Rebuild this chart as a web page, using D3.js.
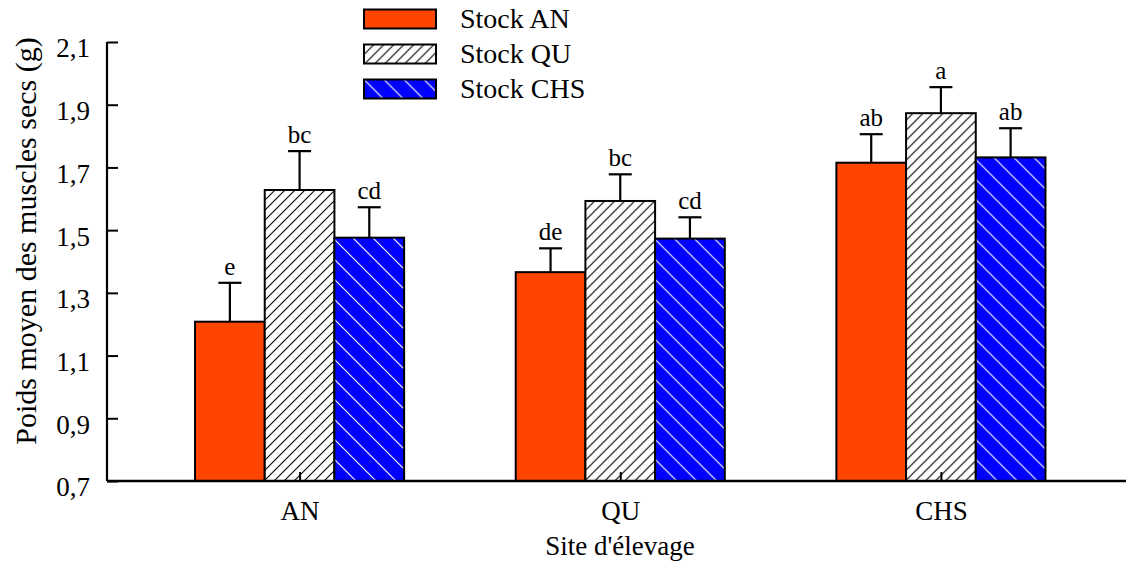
<!DOCTYPE html>
<html>
<head>
<meta charset="utf-8">
<script src="https://cdn.jsdelivr.net/npm/d3@7"></script>
<style>
  html, body { margin: 0; padding: 0; background: #fff; }
  svg text { font-family: "Liberation Serif", "Times New Roman", Times, serif; fill: #000; }
</style>
</head>
<body>
<svg id="chart" width="1126" height="564"></svg>
<script>
// Rearing sites (x categories) and stocks (series)
const sites = ["AN", "QU", "CHS"];
const stocks = ["Stock AN", "Stock QU", "Stock CHS"];

// Mean dry muscle weight (g) per site, one array per stock
const stockAN  = [1.208, 1.366, 1.715];
const stockQU  = [1.628, 1.593, 1.873];
const stockCHS = [1.476, 1.473, 1.732];

// Standard errors
const errAN  = [0.124, 0.076, 0.091];
const errQU  = [0.124, 0.085, 0.083];
const errCHS = [0.097, 0.068, 0.093];

// Significance letters
const lettersAN  = ["e", "de", "ab"];
const lettersQU  = ["bc", "bc", "a"];
const lettersCHS = ["cd", "cd", "ab"];

const yTicks = [0.7, 0.9, 1.1, 1.3, 1.5, 1.7, 1.9, 2.1];

const svg = d3.select("#chart");

const axisLeft = 107, axisBottom = 481, axisTop = 42, axisRight = 1126;

const y = d3.scaleLinear().domain([0.7, 2.1]).range([axisBottom, axisTop]);
const x0 = d3.scaleBand().domain(sites).range([139.25, 1101.25])
  .paddingInner(0.348).paddingOuter(0.174);
const x1 = d3.scaleBand().domain(stocks).range([0, x0.bandwidth()]);

// Fill patterns
const defs = svg.append("defs");
const pQU = defs.append("pattern").attr("id", "hatchQU")
  .attr("patternUnits", "userSpaceOnUse").attr("width", 10).attr("height", 10);
pQU.append("rect").attr("width", 10).attr("height", 10).attr("fill", "#fff");
pQU.append("path").attr("d", "M-1,1 l2,-2 M0,10 l10,-10 M9,11 l2,-2")
  .attr("stroke", "#000").attr("stroke-width", 1.1);

const pCHS = defs.append("pattern").attr("id", "hatchCHS")
  .attr("patternUnits", "userSpaceOnUse").attr("width", 20).attr("height", 20);
pCHS.append("rect").attr("width", 20).attr("height", 20).attr("fill", "#0000ff");
pCHS.append("path").attr("d", "M0,0 l20,20 M-2,18 l4,4 M18,-2 l4,4")
  .attr("stroke", "#fff").attr("stroke-width", 1.1);

const fills = { "Stock AN": "#ff4500", "Stock QU": "url(#hatchQU)", "Stock CHS": "url(#hatchCHS)" };

const rows = sites.map((s, i) => ({
  site: s,
  values: [
    { stock: "Stock AN",  v: stockAN[i],  e: errAN[i],  l: lettersAN[i] },
    { stock: "Stock QU",  v: stockQU[i],  e: errQU[i],  l: lettersQU[i] },
    { stock: "Stock CHS", v: stockCHS[i], e: errCHS[i], l: lettersCHS[i] }
  ]
}));

const groups = svg.append("g").selectAll("g").data(rows).join("g")
  .attr("transform", d => `translate(${x0(d.site)},0)`);

// Error bars (drawn first so the bar outline sits over the stem base)
groups.selectAll("g.err").data(d => d.values).join("g").attr("class", "err")
  .each(function (d) {
    const g = d3.select(this);
    const cx = x1(d.stock) + x1.bandwidth() / 2;
    g.append("line").attr("x1", cx).attr("x2", cx)
      .attr("y1", y(d.v)).attr("y2", y(d.v + d.e))
      .attr("stroke", "#000").attr("stroke-width", 2.2);
    g.append("line").attr("x1", cx - 11.5).attr("x2", cx + 11.5)
      .attr("y1", y(d.v + d.e)).attr("y2", y(d.v + d.e))
      .attr("stroke", "#000").attr("stroke-width", 2.2);
    g.append("text").attr("x", cx).attr("y", y(d.v + d.e) - 8)
      .attr("text-anchor", "middle").attr("font-size", 25).text(d.l);
  });

// Bars
groups.selectAll("rect").data(d => d.values).join("rect")
  .attr("x", d => x1(d.stock))
  .attr("y", d => y(d.v))
  .attr("width", x1.bandwidth())
  .attr("height", d => y(0.7) - y(d.v))
  .attr("fill", d => fills[d.stock])
  .attr("stroke", "#000").attr("stroke-width", 2);

// Y axis
const yAxis = svg.append("g").attr("transform", `translate(${axisLeft},0)`)
  .call(d3.axisLeft(y).tickValues(yTicks).tickSize(-11).tickPadding(17)
    .tickFormat(d => d3.format(".1f")(d).replace(".", ",")));
yAxis.select(".domain").attr("d", `M0,${axisTop}V${axisBottom}`).attr("stroke-width", 2.2);
yAxis.selectAll(".tick line").attr("stroke-width", 2);
yAxis.selectAll(".tick text").attr("font-size", 27).attr("dy", "0.55em");

// X axis
const xAxis = svg.append("g").attr("transform", `translate(0,${axisBottom})`)
  .call(d3.axisBottom(d3.scalePoint().domain(sites)
      .range([x0("AN") + x0.bandwidth() / 2, x0("CHS") + x0.bandwidth() / 2]))
    .tickSize(-9).tickPadding(20));
xAxis.select(".domain").attr("d", `M${axisLeft},0H${axisRight}`).attr("stroke-width", 2.6);
xAxis.selectAll(".tick line").attr("stroke-width", 2);
xAxis.selectAll(".tick text").attr("font-size", 27);

// Axis titles
svg.append("text").attr("x", 620).attr("y", 555).attr("text-anchor", "middle")
  .attr("font-size", 27).text("Site d'élevage");
svg.append("text").attr("transform", "translate(36,241) rotate(-90)")
  .attr("text-anchor", "middle").attr("font-size", 30)
  .text("Poids moyen des muscles secs (g)");

// Legend
const legend = svg.append("g").selectAll("g").data(stocks).join("g")
  .attr("transform", (d, i) => `translate(364,${9.5 + i * 35})`);
legend.append("rect").attr("width", 72).attr("height", 19)
  .attr("fill", d => fills[d]).attr("stroke", "#000").attr("stroke-width", 2);
legend.append("text").attr("x", 96).attr("y", 18.5).attr("font-size", 28)
  .text(d => d);
</script>
</body>
</html>
